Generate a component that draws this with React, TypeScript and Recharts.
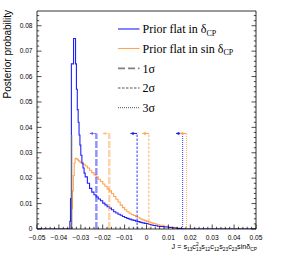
import React from 'react';
import { LineChart, Line, XAxis, YAxis, ReferenceLine, ReferenceDot } from 'recharts';

// posterior, prior flat in delta_CP (step histogram, left bin edges)
const flatDeltaJ = [
  -0.05, -0.0355, -0.035, -0.0347, -0.0343, -0.0333, -0.0324, -0.032, -0.0316, -0.0312,
  -0.0308, -0.0304, -0.03, -0.0295, -0.029, -0.0285, -0.028, -0.027, -0.026, -0.025,
  -0.024, -0.023, -0.022, -0.021, -0.02, -0.019, -0.018, -0.017, -0.016, -0.015,
  -0.014, -0.013, -0.012, -0.011, -0.01, -0.009, -0.008, -0.007, -0.006, -0.005,
  -0.004, -0.003, -0.002, -0.001, 0, 0.001, 0.002, 0.003, 0.004, 0.005,
  0.006, 0.008, 0.01, 0.012, 0.014, 0.016, 0.017, 0.05,
];
const flatDeltaP = [
  0, 0, 0.003, 0.012, 0.065, 0.075, 0.065, 0.055, 0.047, 0.042,
  0.037, 0.033, 0.029, 0.026, 0.024, 0.022, 0.0205, 0.018, 0.016, 0.0145,
  0.0135, 0.0126, 0.0118, 0.0111, 0.0102, 0.0095, 0.0088, 0.0082, 0.0076, 0.0068,
  0.0063, 0.0058, 0.0054, 0.0049, 0.0045, 0.0042, 0.0039, 0.0036, 0.0034, 0.0031,
  0.0029, 0.0026, 0.0024, 0.0022, 0.0021, 0.0018, 0.0016, 0.0014, 0.0013, 0.0011,
  0.001, 0.0008, 0.0006, 0.0004, 0.0002, 0.0001, 0, 0,
];

// posterior, prior flat in sin(delta_CP)
const flatSinJ = [
  -0.05, -0.035, -0.0345, -0.0342, -0.0338, -0.0334, -0.033, -0.0326, -0.032, -0.0315,
  -0.031, -0.0305, -0.03, -0.029, -0.028, -0.027, -0.026, -0.025, -0.024, -0.023,
  -0.022, -0.021, -0.02, -0.019, -0.018, -0.017, -0.016, -0.015, -0.014, -0.013,
  -0.012, -0.011, -0.01, -0.009, -0.008, -0.007, -0.006, -0.005, -0.004, -0.003,
  -0.002, -0.001, 0, 0.001, 0.002, 0.003, 0.004, 0.005, 0.006, 0.008,
  0.01, 0.012, 0.014, 0.016, 0.018, 0.019, 0.05,
];
const flatSinP = [
  0, 0, 0.002, 0.008, 0.015, 0.021, 0.026, 0.0278, 0.0276, 0.0272,
  0.0268, 0.0264, 0.026, 0.0255, 0.0248, 0.024, 0.0231, 0.0222, 0.0213, 0.0205,
  0.0196, 0.0187, 0.0177, 0.0168, 0.0158, 0.015, 0.014, 0.0128, 0.0117, 0.0106,
  0.0094, 0.0084, 0.0076, 0.0068, 0.0062, 0.0057, 0.0053, 0.0048, 0.0044, 0.004,
  0.0036, 0.0033, 0.003, 0.0027, 0.0024, 0.0021, 0.0019, 0.0017, 0.0015, 0.0011,
  0.0008, 0.0006, 0.0004, 0.0002, 0.0001, 0, 0,
];

// upper limits (1, 2, 3 sigma)
const sigmaNames = ['1σ', '2σ', '3σ'];
const limitsFlatDelta = [-0.0229, -0.0043, 0.0165];
const limitsFlatSin = [-0.017, 0.0011, 0.0183];
const limitMarkerP = 0.0376;
const arrowLenJ = 0.003;

// spike at the physical boundary
const edgeJ = -0.0342;
const edgeP = 0.037;

const xMajor = [-0.05, -0.04, -0.03, -0.02, -0.01, 0, 0.01, 0.02, 0.03, 0.04, 0.05];
const yMajor = [0, 0.01, 0.02, 0.03, 0.04, 0.05, 0.06, 0.07, 0.08];
const yMax = 0.0858;

const xTicks = Array.from({ length: 51 }, (_, i) => +(-0.05 + i * 0.002).toFixed(4));
const yTicks = Array.from({ length: 43 }, (_, i) => +(i * 0.002).toFixed(4));

const flatDeltaData = flatDeltaJ.map((j, i) => ({ j, p: flatDeltaP[i] }));
const flatSinData = flatSinJ.map((j, i) => ({ j, p: flatSinP[i] }));

const BLUE = '#2020ff';
const ORANGE = '#ffa552';
const sans = '"Liberation Sans", Arial, sans-serif';
const serif = '"Liberation Serif", "Times New Roman", serif';

const isMajor = (v: number, list: number[]) => list.some((m) => Math.abs(m - v) < 1e-7);
const fmt = (v: number) => (Math.abs(v) < 1e-9 ? '0' : (v < 0 ? '\u2212' : '') + Math.abs(v).toFixed(2));

const BottomTick = (props: any) => {
  const { x, y, payload } = props;
  const major = isMajor(payload.value, xMajor);
  return (
    <g>
      <line x1={x} x2={x} y1={y} y2={y - (major ? 4.5 : 2.2)} stroke="#000" strokeWidth={0.7} />
      {major && (
        <text x={x} y={y + 10.5} textAnchor="middle" fontSize={6.6} fontFamily={sans} fill="#000">
          {fmt(payload.value)}
        </text>
      )}
    </g>
  );
};

const TopTick = (props: any) => {
  const { x, y, payload } = props;
  const major = isMajor(payload.value, xMajor);
  return <line x1={x} x2={x} y1={y} y2={y + (major ? 4.5 : 2.2)} stroke="#000" strokeWidth={0.7} />;
};

const LeftTick = (props: any) => {
  const { x, y, payload } = props;
  const major = isMajor(payload.value, yMajor);
  return (
    <g>
      <line x1={x} x2={x + (major ? 4.5 : 2.2)} y1={y} y2={y} stroke="#000" strokeWidth={0.7} />
      {major && (
        <text x={x - 4.5} y={y + 2.3} textAnchor="end" fontSize={6.6} fontFamily={sans} fill="#000">
          {fmt(payload.value)}
        </text>
      )}
    </g>
  );
};

const RightTick = (props: any) => {
  const { x, y, payload } = props;
  const major = isMajor(payload.value, yMajor);
  return <line x1={x} x2={x - (major ? 4.5 : 2.2)} y1={y} y2={y} stroke="#000" strokeWidth={0.7} />;
};

const YTitle = () => (
  <text x={11} y={10} transform="rotate(-90, 11, 10)" textAnchor="end" fontSize={10} fontFamily={sans} fill="#000">
    Posterior probability
  </text>
);

// J = s13 c13^2 s12 c12 s23 c23 sin dCP
const XTitle = (props: any) => {
  const vb = props.viewBox || { x: 37, y: 229, width: 219 };
  const right = vb.x + vb.width + 1;
  const base = vb.y + 20;
  const sub = { fontSize: 4.8, dy: 1.8 };
  return (
    <text x={right} y={base} textAnchor="end" fontSize={7.2} fontFamily={sans} fill="#000">
      <tspan>J = s</tspan>
      <tspan fontSize={sub.fontSize} dy={sub.dy}>13</tspan>
      <tspan dy={-sub.dy}>c</tspan>
      <tspan fontSize={sub.fontSize} dy={-2.7}>2</tspan>
      <tspan fontSize={sub.fontSize} dx={-2.6} dy={2.7 + sub.dy}>13</tspan>
      <tspan dy={-sub.dy}>s</tspan>
      <tspan fontSize={sub.fontSize} dy={sub.dy}>12</tspan>
      <tspan dy={-sub.dy}>c</tspan>
      <tspan fontSize={sub.fontSize} dy={sub.dy}>12</tspan>
      <tspan dy={-sub.dy}>s</tspan>
      <tspan fontSize={sub.fontSize} dy={sub.dy}>23</tspan>
      <tspan dy={-sub.dy}>c</tspan>
      <tspan fontSize={sub.fontSize} dy={sub.dy}>23</tspan>
      <tspan dy={-sub.dy}>sin</tspan>
      <tspan>δ</tspan>
      <tspan fontSize={sub.fontSize} dy={sub.dy}>CP</tspan>
    </text>
  );
};

const ArrowHead = (color: string, opacity: number) => (props: any) => {
  const { cx, cy } = props;
  return <path d={`M${cx},${cy} L${cx + 3.2},${cy - 1.7} L${cx + 3.2},${cy + 1.7} Z`} fill={color} fillOpacity={opacity} />;
};

const sigmaStyles = [
  { width: 2.4, dash: '7 2', opacity: 0.5 },
  { width: 0.9, dash: '2.5 1.5', opacity: 1 },
  { width: 0.9, dash: '1 1', opacity: 1 },
];

const renderLimit = (j: number, color: string, k: number, key: string) => {
  const st = sigmaStyles[k];
  return [
    <ReferenceLine
      key={key + 'v'}
      segment={[{ x: j, y: 0 }, { x: j, y: limitMarkerP }]}
      stroke={color}
      strokeOpacity={st.opacity}
      strokeWidth={st.width}
      strokeDasharray={st.dash}
    />,
    <ReferenceLine
      key={key + 'h'}
      segment={[{ x: j - arrowLenJ, y: limitMarkerP }, { x: j, y: limitMarkerP }]}
      stroke={color}
      strokeOpacity={st.opacity}
      strokeWidth={1.1}
    />,
    <ReferenceDot key={key + 'a'} x={j - arrowLenJ} y={limitMarkerP} r={2} shape={ArrowHead(color, st.opacity)} />,
  ];
};

const legendRows = [
  { y: 29, kind: 'blue', text: 'Prior flat in δ', sub: 'CP' },
  { y: 48.5, kind: 'orange', text: 'Prior flat in sin δ', sub: 'CP' },
  { y: 68.3, kind: 's1', text: sigmaNames[0], sub: '' },
  { y: 88, kind: 's2', text: sigmaNames[1], sub: '' },
  { y: 107.7, kind: 's3', text: sigmaNames[2], sub: '' },
];

const LegendBox = () => (
  <svg width={284} height={256} style={{ position: 'absolute', left: 0, top: 0, pointerEvents: 'none' }}>
    {legendRows.map((r) => {
      let line;
      if (r.kind === 'blue') line = <line x1={118} x2={139.5} y1={r.y} y2={r.y} stroke={BLUE} strokeWidth={1.1} />;
      else if (r.kind === 'orange') line = <line x1={118} x2={139.5} y1={r.y} y2={r.y} stroke={ORANGE} strokeWidth={1.1} />;
      else if (r.kind === 's1') line = <line x1={118} x2={139.5} y1={r.y} y2={r.y} stroke="#808080" strokeWidth={1.8} strokeDasharray="7 3" />;
      else if (r.kind === 's2') line = <line x1={118} x2={139.5} y1={r.y} y2={r.y} stroke="#404040" strokeWidth={0.9} strokeDasharray="2.5 1.5" />;
      else line = <line x1={118} x2={139.5} y1={r.y} y2={r.y} stroke="#404040" strokeWidth={0.9} strokeDasharray="1 1" />;
      return (
        <g key={r.kind}>
          {line}
          <text x={142.5} y={r.y + 4.2} fontSize={12} fontFamily={serif} fill="#000">
            <tspan>{r.text}</tspan>
            {r.sub && <tspan fontSize={8} dy={2.6}>{r.sub}</tspan>}
          </text>
        </g>
      );
    })}
  </svg>
);

export default function App() {
  return (
    <div style={{ position: 'absolute', left: 0, top: 0, width: 284, height: 256, background: '#fff' }}>
      <LineChart width={284} height={256} margin={{ top: 10, right: 0, bottom: 0, left: 0 }}>
        <XAxis
          dataKey="j"
          type="number"
          domain={[-0.05, 0.05]}
          ticks={xTicks}
          interval={0}
          allowDataOverflow
          height={27}
          tickSize={0}
          tickMargin={0}
          tickLine={false}
          axisLine={{ stroke: '#000', strokeWidth: 0.8 }}
          tick={(p: any) => <BottomTick {...p} />}
          label={{ content: (p: any) => <XTitle {...p} /> }}
        />
        <XAxis
          xAxisId="top"
          orientation="top"
          type="number"
          domain={[-0.05, 0.05]}
          ticks={xTicks}
          interval={0}
          allowDataOverflow
          height={1}
          tickSize={0}
          tickMargin={0}
          tickLine={false}
          axisLine={{ stroke: '#000', strokeWidth: 0.8 }}
          tick={(p: any) => <TopTick {...p} />}
        />
        <YAxis
          type="number"
          domain={[0, yMax]}
          ticks={yTicks}
          interval={0}
          allowDataOverflow
          width={37}
          tickSize={0}
          tickMargin={0}
          tickLine={false}
          axisLine={{ stroke: '#000', strokeWidth: 0.8 }}
          tick={(p: any) => <LeftTick {...p} />}
          label={{ content: () => <YTitle /> }}
        />
        <YAxis
          yAxisId="right"
          orientation="right"
          type="number"
          domain={[0, yMax]}
          ticks={yTicks}
          interval={0}
          allowDataOverflow
          width={28}
          tickSize={0}
          tickMargin={0}
          tickLine={false}
          axisLine={{ stroke: '#000', strokeWidth: 0.8 }}
          tick={(p: any) => <RightTick {...p} />}
        />
        <Line data={flatSinData} dataKey="p" type="stepAfter" stroke={ORANGE} strokeWidth={1.1} dot={false} isAnimationActive={false} />
        <Line data={flatDeltaData} dataKey="p" type="stepAfter" stroke={BLUE} strokeWidth={1.1} dot={false} isAnimationActive={false} />
        <ReferenceLine segment={[{ x: edgeJ, y: 0 }, { x: edgeJ, y: edgeP }]} stroke="#6e6e6e" strokeWidth={1.3} />
        {limitsFlatDelta.map((j, k) => renderLimit(j, BLUE, k, 'd' + k))}
        {limitsFlatSin.map((j, k) => renderLimit(j, ORANGE, k, 's' + k))}
      </LineChart>
      <LegendBox />
    </div>
  );
}
